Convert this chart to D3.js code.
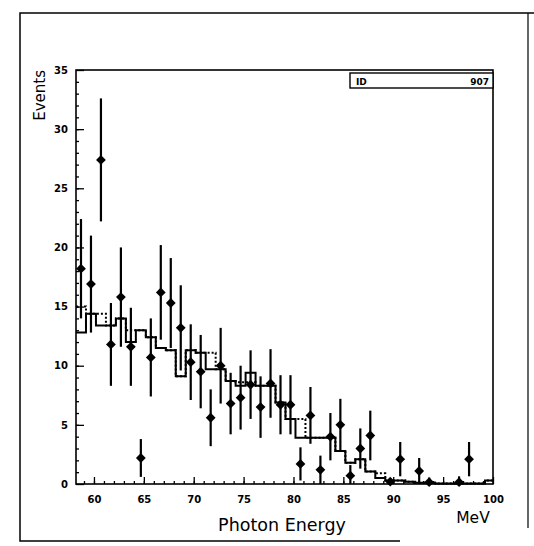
<!DOCTYPE html>
<html>
<head>
<meta charset="utf-8">
<script src="https://cdn.jsdelivr.net/npm/d3@7"></script>
<style>
  body { margin: 0; background: #fff; }
  svg { display: block; }
</style>
</head>
<body>
<div id="chart"></div>
<script>
// bin centres (MeV), width 1
const energy = [58.7, 59.7, 60.7, 61.7, 62.7, 63.7, 64.7, 65.7, 66.7, 67.7,
                68.7, 69.7, 70.7, 71.7, 72.7, 73.7, 74.7, 75.7, 76.7, 77.7,
                78.7, 79.7, 80.7, 81.7, 82.7, 83.7, 84.7, 85.7, 86.7, 87.7,
                88.7, 89.7, 90.7, 91.7, 92.7, 93.7, 94.7, 95.7, 96.7, 97.7,
                98.7, 99.7];
// solid histogram
const histSolid = [12.8, 14.4, 13.4, 13.4, 14.0, 12.0, 13.0, 12.4, 11.5, 11.3,
                   9.1, 11.3, 11.1, 9.7, 9.7, 8.7, 8.3, 9.4, 8.3, 8.3,
                   6.9, 5.5, 3.9, 3.9, 3.9, 3.9, 2.8, 1.8, 2.1, 1.05,
                   0.5, 0.3, 0.3, 0.2, 0.1, 0.1, 0.05, 0.05, 0.05, 0.05,
                   0.05, 0.3];
// dotted histogram
const histDotted = [15.0, 14.4, 14.4, 13.4, 14.0, 13.0, 13.0, 12.4, 11.5, 11.3,
                    9.1, 11.3, 11.1, 11.1, 9.7, 8.7, 8.6, 8.6, 8.3, 8.3,
                    6.9, 5.5, 5.5, 3.9, 3.9, 3.9, 2.8, 1.8, 2.1, 1.05,
                    0.9, 0.3, 0.3, 0.2, 0.1, 0.1, 0.05, 0.05, 0.05, 0.05,
                    0.05, 0.3];
// data points
const ptE   = [58.7, 59.7, 60.7, 61.7, 62.7, 63.7, 64.7, 65.7, 66.7, 67.7,
               68.7, 69.7, 70.7, 71.7, 72.7, 73.7, 74.7, 75.7, 76.7, 77.7,
               78.7, 79.7, 80.7, 81.7, 82.7, 83.7, 84.7, 85.7, 86.7, 87.7,
               89.7, 90.7, 92.6, 93.6, 96.6, 97.6];
const ptN   = [18.2, 16.9, 27.4, 11.8, 15.8, 11.6, 2.2, 10.7, 16.2, 15.3,
               13.2, 10.3, 9.5, 5.6, 10.0, 6.8, 7.3, 8.4, 6.5, 8.5,
               6.7, 6.7, 1.7, 5.8, 1.2, 4.0, 5.0, 0.7, 3.0, 4.1,
               0.2, 2.1, 1.1, 0.15, 0.15, 2.1];
const ptErr = [4.2, 4.1, 5.2, 3.5, 4.2, 3.3, 1.6, 3.3, 4.0, 3.8,
               3.6, 3.2, 3.1, 2.4, 3.2, 2.6, 2.7, 2.9, 2.6, 2.9,
               2.5, 2.5, 1.4, 2.4, 1.2, 2.0, 2.2, 0.9, 1.7, 2.1,
               0.3, 1.45, 1.1, 0.4, 0.5, 1.45];
const xMajor = [60, 65, 70, 75, 80, 85, 90, 95, 100];
const yMajor = [0, 5, 10, 15, 20, 25, 30, 35];

const W = 534, H = 546;
const svg = d3.select('#chart').append('svg')
    .attr('width', W)
    .attr('height', H);

// scanned page border
svg.append('path')
    .attr('d', 'M534,13 L20,13 L20,541 L400,541')
    .attr('fill', 'none').attr('stroke', '#000').attr('stroke-width', 1.5);
svg.append('line')
    .attr('x1', 528).attr('y1', 13).attr('x2', 528).attr('y2', 528)
    .attr('stroke', '#000').attr('stroke-width', 1.2);

const x = d3.scaleLinear().domain([58.2, 100]).range([76, 493]);
const y = d3.scaleLinear().domain([0, 35]).range([484, 70]);

const g = svg.append('g');

// minor ticks
g.append('g')
    .attr('transform', 'translate(0,' + y(0) + ')')
    .call(d3.axisBottom(x).tickValues(d3.range(59, 100, 1)).tickSize(-3).tickFormat(''))
    .call(a => a.select('.domain').remove())
    .selectAll('line').attr('stroke-width', 1.3);
g.append('g')
    .attr('transform', 'translate(' + x.range()[0] + ',0)')
    .call(d3.axisLeft(y).tickValues(d3.range(1, 35, 1)).tickSize(-3).tickFormat(''))
    .call(a => a.select('.domain').remove())
    .selectAll('line').attr('stroke-width', 1.3);

// major ticks + labels
g.append('g')
    .attr('transform', 'translate(0,' + y(0) + ')')
    .call(d3.axisBottom(x).tickValues(xMajor).tickSize(-7).tickPadding(12).tickSizeOuter(0))
    .call(a => a.select('.domain').remove())
    .call(a => a.selectAll('line').attr('stroke-width', 1.3))
    .selectAll('text')
    .attr('font-family', 'DejaVu Sans, sans-serif')
    .attr('font-weight', 'bold')
    .attr('font-size', 10)
    .attr('fill', '#000');
g.append('g')
    .attr('transform', 'translate(' + x.range()[0] + ',0)')
    .call(d3.axisLeft(y).tickValues(yMajor).tickSize(-8).tickPadding(8).tickSizeOuter(0))
    .call(a => a.select('.domain').remove())
    .call(a => a.selectAll('line').attr('stroke-width', 1.3))
    .selectAll('text')
    .attr('font-family', 'DejaVu Sans, sans-serif')
    .attr('font-weight', 'bold')
    .attr('font-size', 10)
    .attr('fill', '#000');

// frame
g.append('rect')
    .attr('x', x.range()[0]).attr('y', y(35))
    .attr('width', x.range()[1] - x.range()[0])
    .attr('height', y(0) - y(35))
    .attr('fill', 'none').attr('stroke', '#000').attr('stroke-width', 1.6);

// histograms
function stepData(vals) {
    let pts = energy.map((e, i) => ({e: e - 0.5, v: vals[i]}));
    pts.push({e: 100, v: vals[vals.length - 1]});
    return pts;
}
const step = d3.line()
    .x(d => x(d.e))
    .y(d => y(d.v))
    .curve(d3.curveStepAfter);

g.append('path')
    .datum(stepData(histDotted))
    .attr('fill', 'none')
    .attr('stroke', '#000')
    .attr('stroke-width', 2)
    .attr('stroke-dasharray', '2,2')
    .attr('d', step);

g.append('path')
    .datum(stepData(histSolid))
    .attr('fill', 'none')
    .attr('stroke', '#000')
    .attr('stroke-width', 2)
    .attr('d', step);

// error bars
const pts = ptE.map((e, i) => ({e: e, n: ptN[i], err: ptErr[i]}));
g.selectAll('.err')
    .data(pts)
    .enter().append('line')
    .attr('class', 'err')
    .attr('x1', d => x(d.e)).attr('x2', d => x(d.e))
    .attr('y1', d => y(Math.min(35, d.n + d.err)))
    .attr('y2', d => y(Math.max(0, d.n - d.err)))
    .attr('stroke', '#000')
    .attr('stroke-width', 2.2);

// diamond markers
g.selectAll('.pt')
    .data(pts)
    .enter().append('path')
    .attr('class', 'pt')
    .attr('transform', d => 'translate(' + x(d.e) + ',' + y(d.n) + ') rotate(45)')
    .attr('d', d3.symbol(d3.symbolSquare).size(48))
    .attr('fill', '#000');

// ID box
const box = svg.append('g');
box.append('rect')
    .attr('x', 350).attr('y', 73).attr('width', 143).attr('height', 15)
    .attr('fill', '#fff').attr('stroke', '#000').attr('stroke-width', 1.4);
box.append('text')
    .attr('x', 356).attr('y', 84.5)
    .attr('font-family', 'DejaVu Sans, sans-serif')
    .attr('font-weight', 'bold').attr('font-size', 9)
    .text('ID');
box.append('text')
    .attr('x', 489).attr('y', 84.5)
    .attr('text-anchor', 'end')
    .attr('font-family', 'DejaVu Sans, sans-serif')
    .attr('font-weight', 'bold').attr('font-size', 9)
    .text('907');

// axis titles
svg.append('text')
    .attr('transform', 'translate(45,70) rotate(-90)')
    .attr('text-anchor', 'end')
    .attr('font-family', 'DejaVu Sans, sans-serif')
    .attr('font-size', 15)
    .text('Events');

svg.append('text')
    .attr('x', 282).attr('y', 531)
    .attr('text-anchor', 'middle')
    .attr('font-family', 'DejaVu Sans, sans-serif')
    .attr('font-size', 17.5)
    .text('Photon Energy');

svg.append('text')
    .attr('x', 473).attr('y', 523)
    .attr('text-anchor', 'middle')
    .attr('font-family', 'DejaVu Sans, sans-serif')
    .attr('font-size', 15.5)
    .text('MeV');
</script>
</body>
</html>
